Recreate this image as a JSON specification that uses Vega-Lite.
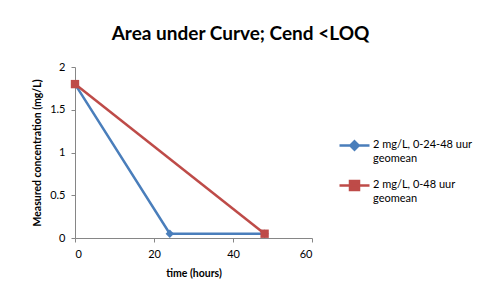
{
  "$schema": "https://vega.github.io/schema/vega-lite/v6.json",
  "autosize": "none",
  "width": 237,
  "height": 171,
  "padding": {"left": 75, "top": 67, "right": 170, "bottom": 54},
  "background": "white",
  "title": {
    "text": "Area under Curve; Cend <LOQ",
    "font": "Lato",
    "fontSize": 19,
    "fontWeight": "bold",
    "color": "#000000",
    "anchor": "middle",
    "dx": 47,
    "offset": 17
  },
  "data": {
    "values": [
      {"series": "2 mg/L, 0-24-48 uur geomean", "time": 0, "conc": 1.8},
      {"series": "2 mg/L, 0-24-48 uur geomean", "time": 24, "conc": 0.05},
      {"series": "2 mg/L, 0-24-48 uur geomean", "time": 48, "conc": 0.05},
      {"series": "2 mg/L, 0-48 uur geomean", "time": 0, "conc": 1.8},
      {"series": "2 mg/L, 0-48 uur geomean", "time": 48, "conc": 0.05}
    ]
  },
  "encoding": {
    "x": {
      "field": "time", "type": "quantitative",
      "scale": {"domain": [0, 60], "nice": false},
      "axis": {"values": [0, 20, 40, 60], "title": "time (hours)", "grid": false,
        "tickSize": 4, "labelPadding": 6, "titlePadding": 9}
    },
    "y": {
      "field": "conc", "type": "quantitative",
      "scale": {"domain": [0, 2], "nice": false},
      "axis": {"values": [0, 0.5, 1, 1.5, 2], "format": "~g", "title": "Measured concentration (mg/L)", "grid": false,
        "tickSize": 4, "labelPadding": 6, "titlePadding": 7}
    },
    "color": {
      "field": "series", "type": "nominal",
      "scale": {"range": ["#4A7EBB", "#BE4B48"]},
      "legend": {
        "title": null,
        "orient": "none",
        "legendX": 263,
        "legendY": 62,
        "symbolType": "M-1,0H1",
        "symbolSize": 900,
        "symbolStrokeWidth": 2.5,
        "labelFont": "Lato",
        "labelFontSize": 11,
        "labelColor": "#000000",
        "labelLimit": 300,
        "labelOffset": 2,
        "rowPadding": 5,
        "labelExpr": "[replace(datum.label, ' geomean', ''), 'geomean']",
        "encode": {
          "labels": {"update": {"lineHeight": {"value": 14}, "baseline": {"value": "top"}, "dy": {"value": -7}}},
          "symbols": {"update": {
            "shape": {"signal": "indexof(datum.value, '0-24') >= 0 ? 'M-1,0H1M0,-0.28L0.28,0L0,0.28L-0.28,0Z' : 'M-1,0H1M-0.3,-0.3H0.3V0.3H-0.3Z'"},
            "fill": {"signal": "indexof(datum.value, '0-24') >= 0 ? '#4A7EBB' : '#BE4B48'"},
            "stroke": {"signal": "indexof(datum.value, '0-24') >= 0 ? '#4A7EBB' : '#BE4B48'"},
            "strokeWidth": {"value": 2.5},
            "size": {"value": 900}
          }}
        }
      }
    }
  },
  "layer": [
    {"mark": {"type": "line", "strokeWidth": 2.5}},
    {
      "mark": {"type": "point", "filled": true, "opacity": 1},
      "encoding": {
        "shape": {"field": "series", "type": "nominal", "scale": {"range": ["diamond", "square"]}, "legend": null},
        "size": {"value": 70}
      }
    }
  ],
  "config": {
    "font": "Lato",
    "view": {"stroke": null},
    "axis": {
      "domainColor": "#868686",
      "tickColor": "#868686",
      "labelFont": "Lato",
      "labelFontSize": 11,
      "labelColor": "#000000",
      "titleFont": "Lato",
      "titleFontSize": 10.5,
      "titleFontWeight": "bold",
      "titleColor": "#000000"
    }
  }
}
